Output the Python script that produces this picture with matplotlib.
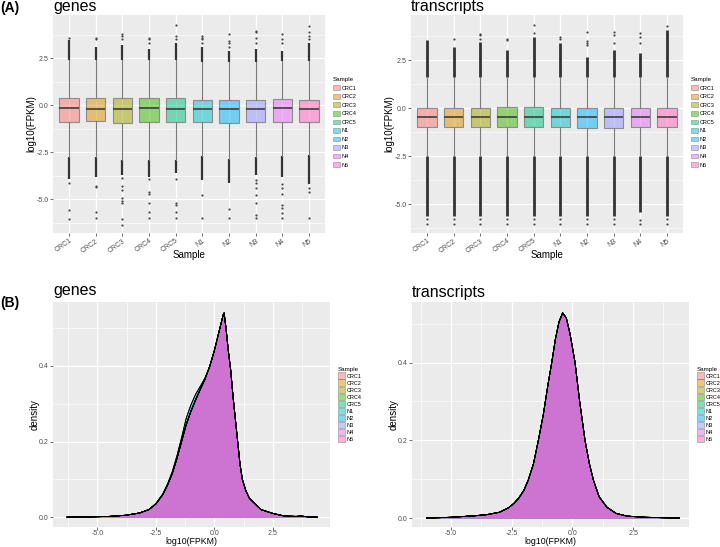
import matplotlib
matplotlib.use('Agg')
import matplotlib.pyplot as plt
from matplotlib.patches import Patch
from matplotlib.ticker import MultipleLocator

plt.rcParams['font.family'] = ['Liberation Sans', 'DejaVu Sans']

# ——— DATA ———
samples = ['CRC1', 'CRC2', 'CRC3', 'CRC4', 'CRC5', 'N1', 'N2', 'N3', 'N4', 'N5']
colors = ['#F8766D', '#D89000', '#A3A500', '#39B600', '#00BF7D',
          '#00BFC4', '#00B0F6', '#9590FF', '#E76BF3', '#FF62BC']

# genes boxplot stats
gene_q1 = [-0.89, -0.86, -0.95, -0.92, -0.92, -0.92, -0.95, -0.92, -0.87, -0.89]
gene_med = [-0.14, -0.18, -0.21, -0.14, -0.20, -0.20, -0.21, -0.20, -0.16, -0.18]
gene_q3 = [0.36, 0.36, 0.36, 0.37, 0.36, 0.30, 0.30, 0.30, 0.34, 0.30]
gene_whi_lo = [-2.78, -2.78, -2.90, -2.89, -2.93, -2.71, -2.84, -2.78, -2.71, -2.66]
gene_whi_hi = [2.40, 2.40, 2.40, 2.40, 2.40, 2.30, 2.30, 2.30, 2.35, 2.35]
# end of the densely packed outliers
gene_dense_lo = [-3.90, -3.81, -3.72, -3.81, -3.63, -3.99, -4.16, -3.72, -3.81, -4.20]
gene_dense_hi = [3.46, 3.10, 3.20, 3.00, 3.30, 3.10, 2.90, 3.00, 2.90, 3.30]
# scattered outliers
gene_out = [
    [3.55, -4.13, -5.55, -6.03],
    [3.50, 3.55, -4.29, -4.35, -5.67, -6.00],
    [3.50, 3.70, 3.80, -3.86, -4.30, -4.52, -4.96, -5.10, -5.20, -6.08, -6.35],
    [3.30, 3.50, 3.55, -3.95, -4.61, -4.70, -5.20, -5.67, -6.00],
    [3.50, 3.70, 4.26, -3.95, -5.20, -5.32, -5.67, -6.00],
    [3.30, 3.50, 3.60, 3.70, -4.79, -6.00],
    [3.10, 3.30, 3.40, 3.80, -5.50, -6.00],
    [3.30, 3.60, 3.90, 3.95, -4.00, -4.16, -4.43, -4.79, -5.20, -5.85, -6.00],
    [3.30, 3.50, 3.78, -4.20, -4.40, -4.70, -5.32, -5.45, -5.73, -6.00],
    [3.50, 3.70, 3.90, 4.20, -4.40, -4.60, -6.00],
]

# transcripts boxplot stats
tx_q1 = [-1.00, -1.00, -1.00, -1.00, -0.98, -1.00, -1.05, -1.03, -1.00, -1.00]
tx_med = [-0.45, -0.46, -0.46, -0.44, -0.44, -0.47, -0.48, -0.48, -0.45, -0.47]
tx_q3 = [0.03, 0.03, 0.03, 0.05, 0.05, 0.02, 0.00, 0.00, 0.03, 0.02]
tx_whi_lo = [-2.50] * 10
tx_whi_hi = [1.62] * 10
tx_dense_lo = [-5.60, -5.60, -5.60, -5.60, -5.60, -5.60, -5.60, -5.60, -5.40, -5.60]
tx_dense_hi = [3.56, 3.21, 3.47, 3.04, 3.73, 3.39, 2.69, 3.04, 2.86, 4.08]
tx_out = [
    [-5.75, -6.02],
    [3.60, -5.75, -6.02],
    [3.60, 3.80, 3.87, -5.75, -6.02],
    [3.55, 3.60, -5.75, -6.02],
    [3.90, 4.34, -5.75, -6.02],
    [3.60, 3.70, -5.75, -6.02],
    [3.30, 3.40, 3.50, 3.99, -5.75, -6.02],
    [3.40, 3.80, 4.00, -5.75, -6.02],
    [3.40, 3.70, 3.90, -5.80, -6.02],
    [4.29, -5.75, -6.02],
]

# density curves
gene_dx = [-6.3, -5.5, -4.5, -3.8, -3.2, -2.8, -2.5, -2.2, -2.0, -1.8, -1.6, -1.4,
           -1.2, -1.0, -0.8, -0.6, -0.4, -0.2, 0.0, 0.1, 0.2, 0.3, 0.38, 0.42,
           0.5, 0.6, 0.7, 0.8, 0.9, 1.0, 1.1, 1.2, 1.35, 1.5, 1.75, 2.0, 2.5,
           3.0, 3.5, 3.7, 4.0, 4.4]
gene_dy = [0.0, 0.0005, 0.002, 0.005, 0.011, 0.02, 0.035, 0.06, 0.085, 0.115, 0.155, 0.2,
           0.245, 0.28, 0.31, 0.338, 0.365, 0.398, 0.44, 0.465, 0.49, 0.515, 0.535, 0.54,
           0.50, 0.44, 0.39, 0.32, 0.26, 0.2, 0.14, 0.1, 0.07, 0.05, 0.035, 0.02, 0.01,
           0.003, 0.002, 0.003, 0.001, 0.0]
# N1 / N2 sit a little higher on the left shoulder
gene_dy_shoulder = [0.0, 0.0005, 0.002, 0.005, 0.011, 0.02, 0.036, 0.062, 0.088, 0.12, 0.162, 0.21,
                    0.262, 0.297, 0.325, 0.346, 0.368, 0.398, 0.44, 0.465, 0.49, 0.515, 0.535, 0.54,
                    0.50, 0.44, 0.39, 0.32, 0.26, 0.2, 0.14, 0.1, 0.07, 0.05, 0.035, 0.02, 0.01,
                    0.003, 0.002, 0.003, 0.001, 0.0]
shoulder_samples = ['N1', 'N2']

tx_dx = [-6.0, -5.0, -4.0, -3.5, -3.0, -2.64, -2.4, -2.2, -2.0, -1.82, -1.6, -1.4,
         -1.2, -1.0, -0.85, -0.7, -0.55, -0.4, -0.25, -0.1, 0.0, 0.11, 0.3, 0.52,
         0.7, 0.87, 1.1, 1.42, 1.8, 2.25, 3.0, 4.4]
tx_dy = [0.0, 0.002, 0.006, 0.009, 0.015, 0.026, 0.038, 0.052, 0.071, 0.097, 0.14, 0.2,
         0.265, 0.345, 0.4, 0.46, 0.505, 0.528, 0.515, 0.475, 0.44, 0.4, 0.3, 0.2,
         0.14, 0.097, 0.055, 0.028, 0.012, 0.005, 0.002, 0.0]

# ——— STYLE ———
PANEL = '#EBEBEB'
TICK_C = '#4D4D4D'
W, H = 720, 547


def px(x0, y0, x1, y1):
    return [x0 / W, 1 - y1 / H, (x1 - x0) / W, (y1 - y0) / H]


def gg_axes(ax):
    ax.set_facecolor(PANEL)
    for s in ax.spines.values():
        s.set_visible(False)
    ax.grid(True, which='major', color='white', lw=0.9)
    ax.grid(True, which='minor', color='white', lw=0.45)
    ax.set_axisbelow(True)
    ax.tick_params(which='major', length=2, width=0.5, color='#333333',
                   labelsize=5, labelcolor=TICK_C, pad=1.2)
    ax.tick_params(which='minor', length=0)


def legend(ax, x, y, big):
    hs = [Patch(facecolor=c, alpha=0.5, edgecolor='#555555', lw=0.5) for c in colors]
    if big:
        kw = dict(handlelength=1.25, handleheight=1.45, labelspacing=0.08)
    else:
        kw = dict(handlelength=1.3, handleheight=0.9, labelspacing=0.6)
    lg = ax.legend(hs, samples, title='Sample', loc='upper left',
                   bbox_to_anchor=(x / W, 1 - y / H), bbox_transform=fig.transFigure,
                   frameon=False, fontsize=4, title_fontsize=4.5,
                   handletextpad=0.3, borderaxespad=0, borderpad=0, **kw)
    lg._legend_box.align = 'left'


def boxpanel(ax, q1, med, q3, wlo, whi, dlo, dhi, outs, ylim, dense_lw):
    gg_axes(ax)
    pos = list(range(1, len(samples) + 1))
    stats = [dict(med=med[i], q1=q1[i], q3=q3[i], whislo=wlo[i], whishi=whi[i], fliers=[])
             for i in range(len(samples))]
    ax.vlines(pos, dlo, wlo, colors='#333333', lw=dense_lw, zorder=2)
    ax.vlines(pos, whi, dhi, colors='#333333', lw=dense_lw, zorder=2)
    for p, o in zip(pos, outs):
        ax.scatter([p] * len(o), o, s=2.5, color='#444444', lw=0, zorder=2)
    b = ax.bxp(stats, positions=pos, widths=0.72, patch_artist=True, showcaps=False,
               boxprops=dict(edgecolor='#8c8c8c', lw=0.8),
               medianprops=dict(color='#333333', lw=1.1),
               whiskerprops=dict(color='#7a7a7a', lw=0.8))
    for patch, c in zip(b['boxes'], colors):
        patch.set_facecolor(matplotlib.colors.to_rgba(c, 0.5))
    ax.set_xlim(0.4, 10.6)
    ax.set_ylim(*ylim)
    ax.set_xticks(pos)
    ax.set_xticklabels(samples, rotation=35, ha='right', rotation_mode='anchor')
    ax.set_yticks([-5.0, -2.5, 0.0, 2.5])
    ax.set_yticklabels(['-5.0', '-2.5', '0.0', '2.5'])
    ax.yaxis.set_minor_locator(MultipleLocator(1.25))
    ax.set_xlabel('Sample', fontsize=7, color='black')
    ax.set_ylabel('log10(FPKM)', fontsize=7, color='black')


def denspanel(ax, xs, ys_by_sample, xlim, ylim):
    gg_axes(ax)
    ax.tick_params(axis='x', which='major', pad=0.5)
    for ys, c in zip(ys_by_sample, colors):
        ax.fill_between(xs, ys, 0, color=c, alpha=0.5, lw=0, zorder=2)
        ax.plot(xs, ys, color='black', lw=0.6, zorder=3)
    ax.set_xlim(*xlim)
    ax.set_ylim(*ylim)
    ax.set_xticks([-5.0, -2.5, 0.0, 2.5])
    ax.set_xticklabels(['-5.0', '-2.5', '0.0', '2.5'])
    ax.xaxis.set_minor_locator(MultipleLocator(1.25))
    ax.set_yticks([0.0, 0.2, 0.4])
    ax.set_yticklabels(['0.0', '0.2', '0.4'])
    ax.yaxis.set_minor_locator(MultipleLocator(0.1))
    ax.set_xlabel('log10(FPKM)', fontsize=6.3, color='black')
    ax.set_ylabel('density', fontsize=7, color='black')


fig = plt.figure(figsize=(7.2, 5.47), dpi=100)

ax1 = fig.add_axes(px(53, 15, 325, 233))
ax2 = fig.add_axes(px(411, 15, 683, 233))
ax3 = fig.add_axes(px(53, 302, 330, 527))
ax4 = fig.add_axes(px(412, 302, 689, 527))

boxpanel(ax1, gene_q1, gene_med, gene_q3, gene_whi_lo, gene_whi_hi,
         gene_dense_lo, gene_dense_hi, gene_out, (-6.8, 4.8), 1.6)
boxpanel(ax2, tx_q1, tx_med, tx_q3, tx_whi_lo, tx_whi_hi,
         tx_dense_lo, tx_dense_hi, tx_out, (-6.5, 4.86), 2.0)

gene_curves = [gene_dy_shoulder if s in shoulder_samples else gene_dy for s in samples]
denspanel(ax3, gene_dx, gene_curves, (-6.9, 4.95), (-0.026, 0.569))
denspanel(ax4, tx_dx, [tx_dy] * len(samples), (-6.6, 4.8), (-0.023, 0.556))

for ax in (ax1, ax2):
    ax.yaxis.set_label_coords(-0.062, 0.5)
    ax.xaxis.set_label_coords(0.5, -0.08)
for ax in (ax3, ax4):
    ax.yaxis.set_label_coords(-0.048, 0.5)
    ax.xaxis.set_label_coords(0.5, -0.044)

legend(ax1, 333, 77, False)
legend(ax2, 691, 77, False)
legend(ax3, 338, 367, True)
legend(ax4, 697, 367, True)

# titles and panel tags
fig.text(53 / W, 1 - 11 / H, 'genes', fontsize=11.5, va='baseline')
fig.text(411 / W, 1 - 11 / H, 'transcripts', fontsize=11.5, va='baseline')
fig.text(53 / W, 1 - 295 / H, 'genes', fontsize=11.5, va='baseline')
fig.text(412 / W, 1 - 296.5 / H, 'transcripts', fontsize=11.5, va='baseline')
fig.text(0, 1 - 12 / H, '(A)', fontsize=10, fontweight='bold', va='baseline')
fig.text(0, 1 - 307 / H, '(B)', fontsize=10, fontweight='bold', va='baseline')

fig.savefig('out.png', dpi=100, facecolor='white')
